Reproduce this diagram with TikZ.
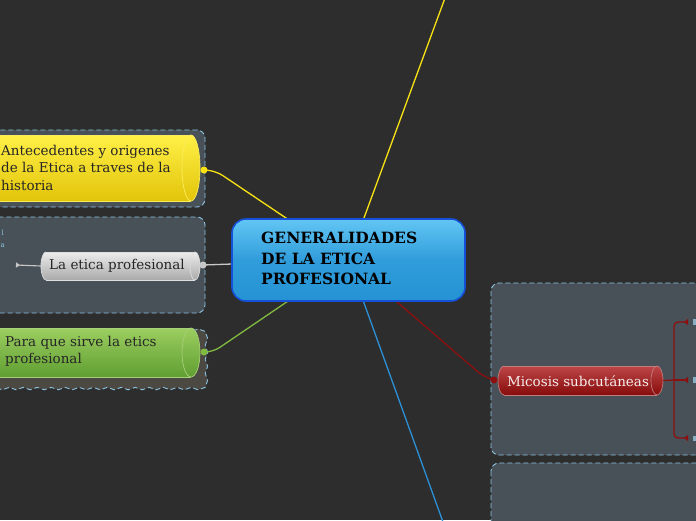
\documentclass[tikz,border=0pt]{standalone}
\usepackage{fontspec}
\newfontfamily\slab{DejaVu Serif}
\usetikzlibrary{arrows.meta, decorations.pathmorphing, calc}
\definecolor{bg}{RGB}{45,45,45}
\definecolor{pfill}{RGB}{72,81,88}
\definecolor{pbrown}{RGB}{76,72,66}
\definecolor{pblue}{RGB}{140,196,226}
\definecolor{cblueT}{RGB}{98,198,244}
\definecolor{cblueB}{RGB}{36,146,212}
\definecolor{cblueD}{RGB}{22,80,216}
\definecolor{yel}{RGB}{248,226,20}
\definecolor{yelT}{RGB}{255,240,70}
\definecolor{yelB}{RGB}{226,196,10}
\definecolor{gryT}{RGB}{236,236,236}
\definecolor{gryB}{RGB}{170,170,170}
\definecolor{gry}{RGB}{200,200,200}
\definecolor{grnT}{RGB}{156,206,96}
\definecolor{grnB}{RGB}{96,158,50}
\definecolor{grn}{RGB}{128,186,64}
\definecolor{redT}{RGB}{190,70,70}
\definecolor{redB}{RGB}{135,12,12}
\definecolor{red}{RGB}{140,16,16}
\definecolor{bline}{RGB}{44,144,214}
\tikzset{
  panel/.style={draw=pblue, dash pattern=on 5pt off 3pt, line width=0.9pt, fill=pfill, rounded corners=8pt},
  dot/.style={circle, inner sep=0pt, minimum size=7pt},
  small/.style={font=\slab\fontsize{13.5}{17.5}\selectfont, inner sep=0pt},
  conn/.style={line width=1.3pt},
}
% #1 name, #2 body left, #3 right extremity, #4 top, #5 bottom, #6 cap x radius, #7 top colour, #8 bottom colour, #9 outline colour
\newcommand\cylbox[9]{%
  \pgfmathsetmacro\cyM{(#4+#5)/2}%
  \pgfmathsetmacro\cyH{(#5-#4)/2}%
  \pgfmathsetmacro\cyE{#3-#6}%
  \pgfmathsetmacro\cyW{#3-#2+#6}%
  \pgfmathsetmacro\cyC{(#2-#6+#3)/2}%
  \pgfmathsetmacro\cyHH{#5-#4}%
  \shade[top color=#7, bottom color=#8] (#2,#4) rectangle (\cyE,#5);
  \shade[top color=#7, bottom color=#8] (\cyE,\cyM) ellipse[x radius=#6, y radius=\cyH];
  \shade[top color=#7, bottom color=#8] (#2,\cyM) ellipse[x radius=#6, y radius=\cyH];
  \begin{scope}
    \clip (#2-#6-2,#4-2) rectangle (#2,#5+2);
    \draw[#9, line width=0.7pt] (#2,\cyM) ellipse[x radius=#6, y radius=\cyH];
  \end{scope}
  \draw[#9, line width=0.7pt] (#2,#4) -- (\cyE,#4) (#2,#5) -- (\cyE,#5);
  \draw[#9, line width=0.7pt] (\cyE,\cyM) ellipse[x radius=#6, y radius=\cyH];
  \node[inner sep=0pt, minimum width=\cyW pt, minimum height=\cyHH pt] (#1) at (\cyC,\cyM) {};
}
\begin{document}
\begin{tikzpicture}[x=1pt,y=-1pt]
\useasboundingbox (0,0) rectangle (696,520);
\clip (0,0) rectangle (696,520);
\fill[bg] (0,0) rectangle (696,520);

% panels
\path[panel] (-20,130) rectangle (205,207);
\path[panel] (-20,217) rectangle (205,313);
\path[panel, rounded corners=0pt, fill=pbrown, decorate, decoration={snake, amplitude=1.2pt, segment length=14pt}] (-20,327) rectangle (205,383);
\path[panel] (491,283) rectangle (730,455);
\path[panel] (491,463) rectangle (730,560);

% central node position (for connectors)
\node[rectangle, minimum width=233pt, minimum height=82pt] (c) at (348.5,260) {};

% free end coordinates
\coordinate (topend) at (445,-2);
\coordinate (botend) at (443,522);

% cylinders
\cylbox{ant}{-40}{200}{135}{201}{9}{yelT}{yelB}{yel!70!white}
\cylbox{lep}{46}{200}{252}{280}{5}{gryT}{gryB}{gry!60!white}
\cylbox{pqs}{-40}{200}{328}{377}{9}{grnT}{grnB}{grn!70!white}
\cylbox{mic}{504}{663}{366}{395}{6}{redT}{redB}{red!55!white}

% dot positions
\coordinate (antd) at (204,170);
\coordinate (lepd) at (203,265);
\coordinate (pqsd) at (204,352);
\coordinate (micd) at (494,380);

% connectors
\draw[yel, conn] (c.center) -- (topend);
\draw[bline, conn] (c.center) -- (botend);
\draw[yel, conn, rounded corners=8pt] (antd) -- ++(12,1) -- (c.center);
\draw[gry, conn] (lepd) -- (c.center);
\draw[grn, conn, rounded corners=8pt] (pqsd) -- ++(9,0) -- (c.center);
\draw[red, conn, rounded corners=10pt] (micd) -- ++(-9,-2) -- (c.center);

% central node on top
\node[rectangle, rounded corners=14pt, minimum width=233pt, minimum height=82pt, draw=cblueD, line width=1.6pt, top color=cblueT, bottom color=cblueB, middle color=cblueB!80!cblueT] (cbox) at (c) {};
\node[anchor=north west, align=left, font=\slab\bfseries\fontsize{15.5}{20.5}\selectfont, inner sep=0pt] (ctext) at (261,232) {GENERALIDADES\\DE LA ETICA\\PROFESIONAL};

% dots on top of lines
\node[dot, fill=yel] (antdot) at (antd) {};
\node[dot, fill=gry] (lepdot) at (lepd) {};
\node[dot, fill=grn] (pqsdot) at (pqsd) {};
\node[dot, fill=red] (micdot) at (micd) {};

% texts
\node[small, anchor=north west, align=left, text=black!85] (antt) at (1,145) {Antecedentes y origenes\\de la Etica a traves de la\\historia};
\node[small, text=black!85] (lept) at (117,266) {La etica profesional};
\node[small, anchor=north west, align=left, text=black!85, font=\slab\fontsize{13.5}{17}\selectfont] (pqst) at (5,336) {Para que sirve la etics\\profesional};
\node[small, text=red!8!white] (mict) at (578,381) {Micosis subcutáneas};

% left small fragment texts
\node[font=\slab\fontsize{7}{8}\selectfont, text=pblue, anchor=east, inner sep=0pt] (fl) at (4,233) {l};
\node[font=\slab\fontsize{7}{8}\selectfont, text=pblue, anchor=east, inner sep=0pt] (fa) at (5,246) {a};

% gray left stub
\coordinate (lepstub) at (16,265);
\draw[gry, line width=1.1pt, {Triangle[reversed, width=5pt, length=4pt]}-] (lepstub) -- (lep.west);

% red bracket
\coordinate (bj) at (674,380);
\coordinate (b1) at (688,322);
\coordinate (b2) at (688,380);
\coordinate (b3) at (688,438);
\draw[red, conn] (mic.east) -- (bj);
\draw[red, conn, rounded corners=4pt, -{Triangle[reversed, width=6pt, length=4pt]}] (bj) |- (b1);
\draw[red, conn, rounded corners=4pt, -{Triangle[reversed, width=6pt, length=4pt]}] (bj) |- (b3);
\draw[red, conn, -{Triangle[reversed, width=6pt, length=4pt]}] (bj) -- (b2);
\fill[pblue!70!gray] (693,319) rectangle (697,325);
\fill[pblue!70!gray] (693,377) rectangle (697,383);
\fill[pblue!70!gray] (693,436) rectangle (697,441);
\end{tikzpicture}
\end{document}
